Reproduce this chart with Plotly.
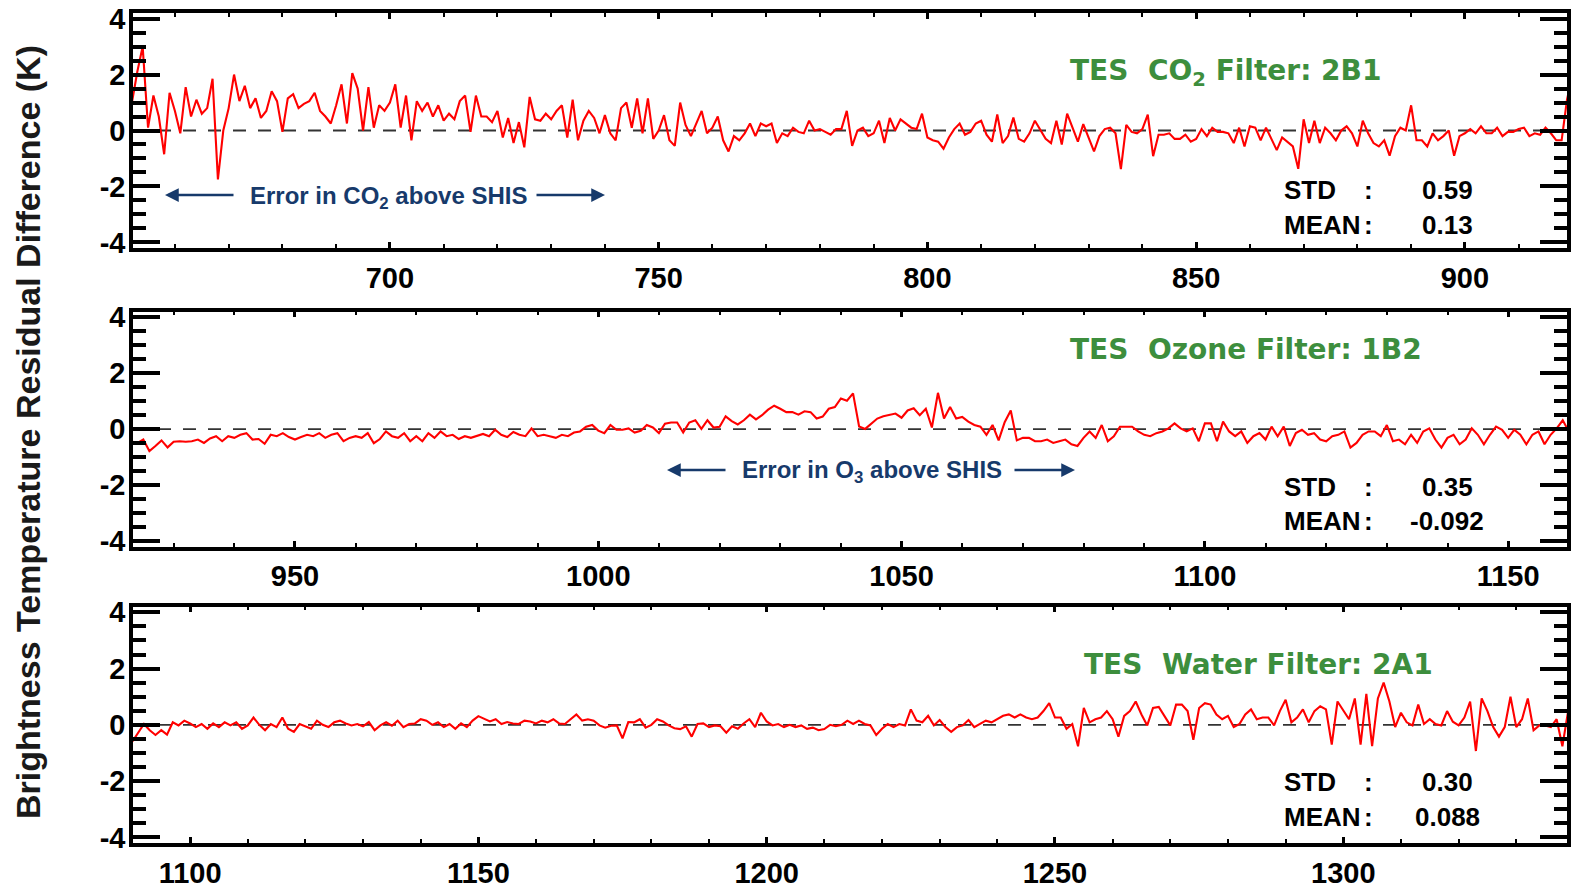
import plotly.graph_objects as go

W, H = 1575, 889

# ---------------- data (brightness temperature residual difference, K) ----------------
# wavenumber grid start (cm-1) for each filter, step of 1 cm-1
P1_START = 652
P1_RES = [
    1.0, 2.1, 3.0, 0.1, 1.25, 0.5, -0.85, 1.35, 0.7, -0.1,
    1.55, 0.5, 1.1, 0.6, 0.8, 1.85, -1.75, 0.0, 0.8, 2.0,
    1.05, 1.6, 0.8, 1.15, 0.45, 0.7, 1.4, 1.05, -0.05, 1.15,
    1.3, 0.8, 0.95, 1.05, 1.35, 0.7, 0.5, 0.25, 0.9, 1.65,
    0.25, 2.05, 1.5, 0.0, 1.55, 0.1, 0.9, 0.7, 1.0, 1.65,
    0.1, 1.25, -0.35, 1.05, 0.7, 1.0, 0.5, 0.9, 0.35, 0.6,
    0.4, 1.05, 1.25, -0.05, 1.25, 0.5, 0.5, 0.3, 0.7, -0.25,
    0.45, -0.45, 0.3, -0.6, 1.2, 0.4, 0.35, 0.6, 0.4, 0.7,
    0.9, -0.25, 1.1, -0.35, 0.35, 0.7, 0.45, -0.1, 0.55, -0.1,
    -0.35, 0.8, 1.0, 0.1, 1.15, -0.1, 1.15, -0.3, 0.0, 0.55,
    -0.35, -0.55, 1.0, 0.2, -0.2, 0.25, 0.7, -0.1, 0.1, 0.5,
    -0.35, -0.75, -0.2, -0.35, -0.1, 0.25, -0.2, 0.25, 0.15, 0.25,
    -0.45, -0.1, -0.2, 0.1, -0.05, -0.1, 0.35, 0.0, 0.05, -0.05,
    -0.15, 0.05, 0.05, 0.7, -0.55, 0.0, 0.1, -0.2, -0.1, 0.35,
    -0.45, 0.45, 0.0, 0.4, 0.25, 0.1, 0.05, 0.6, -0.25, -0.35,
    -0.4, -0.65, -0.25, 0.05, 0.25, -0.15, -0.05, 0.25, 0.35, -0.15,
    -0.4, 0.57, -0.45, -0.2, 0.46, -0.3, -0.4, -0.1, 0.35, 0.0,
    -0.3, -0.45, 0.35, -0.5, 0.6, 0.1, -0.4, 0.23, -0.25, -0.75,
    -0.2, 0.05, 0.1, -0.1, -1.38, 0.2, -0.05, -0.1, 0.05, 0.57,
    -0.92, -0.15, -0.15, -0.1, -0.3, -0.3, -0.15, -0.4, -0.3, 0.05,
    -0.2, 0.1, -0.05, -0.05, -0.1, -0.45, 0.1, -0.57, 0.15, 0.1,
    -0.35, 0.1, -0.3, -0.7, -0.25, -0.4, -0.57, -1.37, 0.4, -0.45,
    0.35, -0.45, 0.1, -0.1, -0.35, 0.0, 0.15, -0.1, -0.57, 0.35,
    -0.1, -0.45, -0.57, -0.35, -0.9, -0.2, 0.1, 0.0, 0.9, -0.35,
    -0.35, -0.57, -0.1, -0.35, -0.2, 0.0, -0.9, -0.2, -0.1, 0.05,
    -0.1, 0.15, -0.1, -0.1, 0.1, -0.2, -0.05, -0.05, 0.05, 0.1,
    -0.2, -0.1, -0.15, 0.1, -0.1, -0.35, -0.35, 1.1, 2.0,
]

P2_START = 923
P2_RES = [
    -0.43, -0.5, -0.37, -0.78, -0.6, -0.4, -0.65, -0.45, -0.43, -0.45,
    -0.43, -0.37, -0.49, -0.33, -0.25, -0.43, -0.25, -0.31, -0.2, -0.14,
    -0.37, -0.35, -0.52, -0.2, -0.25, -0.14, -0.28, -0.37, -0.28, -0.2,
    -0.25, -0.14, -0.31, -0.2, -0.14, -0.43, -0.31, -0.25, -0.31, -0.14,
    -0.5, -0.35, -0.08, -0.25, -0.31, -0.14, -0.43, -0.25, -0.43, -0.14,
    -0.31, -0.08, -0.25, -0.2, -0.35, -0.25, -0.31, -0.25, -0.17, -0.25,
    -0.02, -0.2, -0.28, -0.1, -0.2, -0.25, 0.03, -0.25, -0.2, -0.25,
    -0.31, -0.2, -0.25, -0.12, -0.08, 0.09, 0.15, -0.05, -0.14, 0.15,
    -0.02, -0.02, 0.03, -0.12, -0.06, 0.15, 0.06, -0.14, 0.2, 0.24,
    0.24, -0.12, 0.24, 0.32, 0.01, 0.32, 0.06, 0.09, 0.46, 0.29,
    0.17, 0.32, 0.52, 0.35, 0.5, 0.7, 0.84, 0.73, 0.61, 0.61,
    0.52, 0.64, 0.61, 0.38, 0.45, 0.73, 0.79, 1.1, 1.02, 1.28,
    0.1, 0.01, 0.2, 0.38, 0.46, 0.5, 0.56, 0.41, 0.67, 0.75,
    0.5, 0.73, 0.06, 1.3, 0.38, 0.79, 0.38, 0.44, 0.27, 0.15,
    0.09, -0.2, 0.15, -0.4, 0.25, 0.67, -0.4, -0.31, -0.31, -0.43,
    -0.43, -0.37, -0.49, -0.43, -0.37, -0.54, -0.6, -0.31, -0.08, -0.31,
    0.15, -0.43, -0.25, 0.09, 0.09, 0.09, -0.08, -0.2, -0.25, -0.14,
    -0.08, 0.03, 0.21, 0.03, -0.08, 0.03, -0.43, 0.21, 0.21, -0.43,
    0.27, -0.08, -0.25, -0.08, -0.49, -0.25, -0.14, -0.37, 0.09, -0.25,
    0.09, -0.6, -0.14, -0.02, -0.2, -0.14, -0.37, -0.43, -0.25, -0.2,
    -0.08, -0.66, -0.49, -0.2, -0.08, -0.08, -0.25, 0.15, -0.43, -0.37,
    -0.54, -0.2, -0.49, -0.08, 0.03, -0.37, -0.66, -0.31, -0.2, -0.54,
    -0.37, 0.03, -0.2, -0.54, -0.2, 0.09, -0.02, -0.31, -0.02, -0.2,
    -0.54, -0.2, -0.08, -0.54, -0.2, 0.03, 0.32, -0.08,
]

P3_START = 1090
P3_RES = [
    -0.59, -0.3, 0.03, -0.19, -0.36, -0.19, -0.35, 0.09, -0.02, 0.15,
    0.05, -0.08, 0.03, -0.14, 0.05, -0.08, 0.09, -0.02, 0.09, -0.14,
    -0.02, 0.26, 0.0, -0.19, 0.03, -0.08, 0.26, -0.14, -0.25, 0.03,
    -0.05, -0.14, 0.15, 0.0, -0.08, 0.09, 0.15, 0.05, -0.02, 0.03,
    -0.05, 0.1, -0.19, -0.02, 0.09, -0.03, 0.15, -0.08, 0.03, 0.05,
    0.2, 0.15, 0.0, 0.09, -0.08, 0.03, -0.14, 0.05, -0.08, 0.15,
    0.31, 0.22, 0.12, 0.2, 0.03, 0.1, 0.05, 0.03, 0.15, 0.12,
    0.05, 0.15, 0.09, 0.2, 0.05, 0.03, 0.2, 0.37, 0.15, 0.2,
    0.15, -0.02, -0.1, -0.03, -0.02, -0.48, 0.1, 0.09, 0.2, -0.1,
    0.0, 0.2, 0.12, -0.02, -0.12, -0.15, -0.05, -0.42, 0.03, 0.05,
    -0.08, -0.02, -0.05, -0.28, -0.05, -0.14, 0.05, 0.2, -0.08, 0.43,
    0.12, -0.02, 0.03, -0.08, 0.0, -0.08, -0.02, -0.14, -0.1, -0.19,
    -0.15, 0.0, -0.05, 0.0, 0.15, 0.03, 0.15, 0.03, -0.02, -0.36,
    -0.14, 0.03, -0.08, 0.03, -0.02, 0.55, 0.15, 0.09, 0.32, -0.02,
    0.17, -0.08, -0.25, -0.08, -0.02, 0.17, -0.08, 0.03, 0.15, 0.09,
    0.2, 0.32, 0.37, 0.26, 0.37, 0.26, 0.2, 0.26, 0.49, 0.77,
    0.26, 0.26, -0.14, 0.03, -0.76, 0.6, 0.09, 0.2, 0.26, 0.49,
    0.2, -0.42, 0.32, 0.49, 0.83, 0.37, -0.02, 0.6, 0.64, 0.32,
    -0.02, 0.72, 0.72, 0.49, -0.53, 0.6, 0.77, 0.72, 0.37, 0.2,
    0.32, -0.08, 0.03, 0.37, 0.55, 0.2, 0.26, 0.26, -0.02, 0.49,
    0.89, 0.09, 0.26, 0.55, 0.09, 0.49, 0.66, 0.55, -0.7, 0.83,
    0.49, 0.2, 0.94, -0.7, 1.1, -0.76, 0.94, 1.5, 0.83, -0.08,
    0.43, 0.09, -0.02, 0.72, 0.03, 0.2, 0.03, -0.02, 0.49, 0.11,
    -0.02, 0.26, 0.83, -0.93, 0.94, 0.49, -0.08, -0.42, -0.08, 1.0,
    -0.08, 0.2, 0.94, -0.19, -0.02, -0.02, -0.08, 0.2, -0.76, 0.49, 0.6,
]

FILTER_NAMES = ["CO<sub>2</sub> Filter: 2B1", "Ozone Filter: 1B2", "Water Filter: 2A1"]
STD_VALUES = ["0.59", "0.35", "0.30"]
MEAN_VALUES = ["0.13", "-0.092", "0.088"]
X_RANGES = [[652.2, 919.0], [923.3, 1159.7], [1090.1, 1338.8]]
Y_TICK_VALUES = [-4, -2, 0, 2, 4]
Y_TICK_TEXT = ["-4", "-2", "0", "2", "4"]
Y_TITLE = "Brightness Temperature Residual Difference (K)"

# ---------------- layout helpers ----------------
def fx(p):
    return p / W

def fy(p):
    return 1 - p / H

PANEL_PX = [(13, 248), (311.7, 546.7), (606.7, 843)]   # top, bottom pixel of each plot box
X_DOMAIN = [fx(133), fx(1567)]

RED = "#ff0000"
GREEN = "#3d8e3d"
NAVY = "#173a6b"
TICK_FONT = dict(family="Liberation Sans, Arial, sans-serif", size=29, color="black", weight="bold")

fig = go.Figure()
series = [(P1_START, P1_RES), (P2_START, P2_RES), (P3_START, P3_RES)]
for i, (start, vals) in enumerate(series):
    xs = [start + k for k in range(len(vals))]
    suffix = "" if i == 0 else str(i + 1)
    fig.add_trace(go.Scatter(
        x=xs, y=vals, mode="lines",
        line=dict(color=RED, width=2.1),
        xaxis="x" + suffix, yaxis="y" + suffix, showlegend=False,
        hoverinfo="skip",
    ))

layout = dict(
    width=W, height=H,
    margin=dict(l=0, r=0, t=0, b=0, pad=0, autoexpand=False),
    paper_bgcolor="white", plot_bgcolor="white",
    showlegend=False,
)

for i in range(3):
    suffix = "" if i == 0 else str(i + 1)
    top, bot = PANEL_PX[i]
    layout["xaxis" + suffix] = dict(
        domain=X_DOMAIN, anchor="y" + suffix, range=X_RANGES[i], automargin=False,
        showline=True, linewidth=3.5, linecolor="black", mirror="allticks",
        ticks="inside", ticklen=6, tickwidth=2.5, tickcolor="black",
        tick0=0, dtick=50, tickfont=TICK_FONT, ticklabelstandoff=1,
        minor=dict(dtick=10, ticklen=4, tickwidth=2, tickcolor="black", ticks="inside"),
        showgrid=False, zeroline=False,
    )
    layout["yaxis" + suffix] = dict(
        domain=[fy(bot), fy(top)], anchor="x" + suffix, range=[-4.2, 4.2], automargin=False,
        showline=True, linewidth=3.5, linecolor="black", mirror="allticks",
        ticks="inside", ticklen=27, tickwidth=3.5, tickcolor="black",
        tickmode="array", tickvals=Y_TICK_VALUES, ticktext=Y_TICK_TEXT,
        tickfont=TICK_FONT, ticklabelstandoff=-2,
        minor=dict(tickmode="linear", tick0=0, dtick=0.5, ticklen=13, tickwidth=3.5,
                   tickcolor="black", ticks="inside"),
        showgrid=False, zeroline=False,
    )

shapes = []
for i in range(3):
    suffix = "" if i == 0 else str(i + 1)
    shapes.append(dict(
        type="line", xref="x" + suffix + " domain", yref="y" + suffix,
        x0=0, x1=1, y0=0, y1=0, layer="below",
        line=dict(color="#333333", width=1.8, dash="13px,12px"),
    ))
layout["shapes"] = shapes

ann = []
# y axis title
ann.append(dict(
    text=Y_TITLE, xref="paper", yref="paper", x=fx(28), y=fy(432),
    textangle=-90, showarrow=False, xanchor="center", yanchor="middle",
    font=dict(family="Liberation Sans, Arial, sans-serif", size=34, color="#1a1a1a", weight="bold"),
))

# filter titles
TITLE_POS = [(1068, 72), (1068, 350), (1082, 664)]
for i in range(3):
    x0, y0 = TITLE_POS[i]
    ann.append(dict(
        text="TES\u00a0 " + FILTER_NAMES[i], xref="paper", yref="paper",
        x=fx(x0), y=fy(y0), xanchor="left", yanchor="middle", showarrow=False,
        font=dict(family="DejaVu Sans, Verdana, sans-serif", size=28, color=GREEN, weight="bold"),
    ))

# STD / MEAN boxes
STAT_FONT = dict(family="Liberation Sans, Arial, sans-serif", size=26, color="black", weight="bold")
STAT_ROWS = [(190, 225), (487, 521), (782, 817)]
for i in range(3):
    ys, ym = STAT_ROWS[i]
    for label, yy, val in (("STD", ys, STD_VALUES[i]), ("MEAN", ym, MEAN_VALUES[i])):
        ann.append(dict(text=label, xref="paper", yref="paper", x=fx(1282), y=fy(yy),
                        xanchor="left", yanchor="middle", showarrow=False, font=STAT_FONT))
        ann.append(dict(text=":", xref="paper", yref="paper", x=fx(1368), y=fy(yy),
                        xanchor="center", yanchor="middle", showarrow=False, font=STAT_FONT))
        ann.append(dict(text=val, xref="paper", yref="paper", x=fx(1447), y=fy(yy),
                        xanchor="center", yanchor="middle", showarrow=False, font=STAT_FONT))

# "Error in ... above SHIS" notes with arrows
NOTE_FONT = dict(family="Liberation Sans, Arial, sans-serif", size=24, color=NAVY, weight="bold")
NOTES = [
    ("Error in CO<sub>2</sub> above SHIS", 248, 195, (165, 235), (605, 535)),
    ("Error in O<sub>3</sub> above SHIS", 740, 470, (667, 727), (1075, 1013)),
]
for text, tx, ty, (lh, lt), (rh, rt) in NOTES:
    ann.append(dict(text=text, xref="paper", yref="paper", x=fx(tx), y=fy(ty + 2),
                    xanchor="left", yanchor="middle", showarrow=False, font=NOTE_FONT))
    for head, tail in ((lh, lt), (rh, rt)):
        ann.append(dict(text="", xref="paper", yref="paper", x=fx(head), y=fy(ty),
                        ax=tail - head, ay=0, showarrow=True, arrowhead=2, arrowsize=1.1,
                        arrowwidth=2.5, arrowcolor=NAVY))

layout["annotations"] = ann
fig.update_layout(**layout)
fig.write_html("out.html")
